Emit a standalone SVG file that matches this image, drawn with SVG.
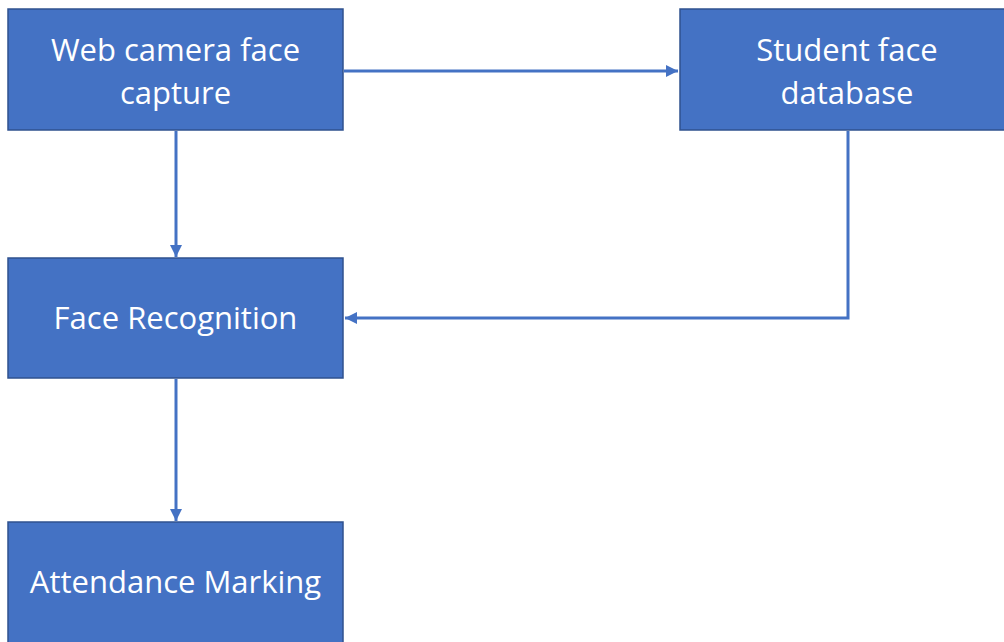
<svg xmlns="http://www.w3.org/2000/svg" width="1004" height="642" viewBox="0 0 1004 642">
  <style>
    .box { fill: #4472C4; stroke: #2F528F; stroke-width: 1.5; }
    .label { fill: #FFFFFF; font-family: "Open Sans", "Liberation Sans", sans-serif; font-size: 31px; text-anchor: middle; }
    .conn { fill: none; stroke: #4472C4; stroke-width: 3; }
  </style>
  <defs>
    <marker id="arrow" viewBox="0 0 10 10" refX="10" refY="5" markerWidth="4" markerHeight="4" orient="auto" markerUnits="strokeWidth">
      <path d="M0,0 L10,5 L0,10 z" fill="#4472C4"/>
    </marker>
  </defs>
  <rect width="1004" height="642" fill="#FFFFFF"/>

  <g id="connectors">
    <line class="conn" x1="344" y1="71" x2="678" y2="71" marker-end="url(#arrow)"/>
    <line class="conn" x1="176" y1="131" x2="176" y2="257" marker-end="url(#arrow)"/>
    <polyline class="conn" points="848,131 848,318 345,318" marker-end="url(#arrow)"/>
    <line class="conn" x1="176" y1="379" x2="176" y2="521" marker-end="url(#arrow)"/>
  </g>

  <g id="webcam">
    <rect class="box" x="8" y="9" width="335" height="121"/>
    <text class="label" x="175.5" y="61">Web camera face</text>
    <text class="label" x="175.5" y="104">capture</text>
  </g>

  <g id="database">
    <rect class="box" x="680" y="9" width="330" height="121"/>
    <text class="label" x="847" y="61">Student face</text>
    <text class="label" x="847" y="104">database</text>
  </g>

  <g id="recognition">
    <rect class="box" x="8" y="258" width="335" height="120"/>
    <text class="label" x="175.5" y="329">Face Recognition</text>
  </g>

  <g id="attendance">
    <rect class="box" x="8" y="522" width="335" height="130"/>
    <text class="label" x="175.5" y="593">Attendance Marking</text>
  </g>
</svg>
